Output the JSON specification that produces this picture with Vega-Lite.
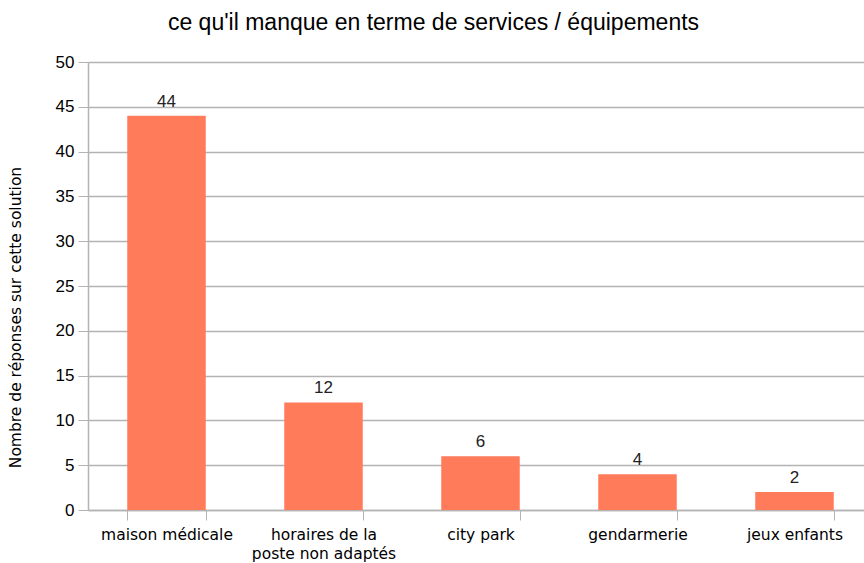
{
  "$schema": "https://vega.github.io/schema/vega-lite/v6.json",
  "width": 785,
  "height": 448,
  "autosize": {"type": "none"},
  "padding": {"left": 88, "top": 62, "right": 0, "bottom": 53},
  "background": "white",
  "title": {
    "text": "ce qu'il manque en terme de services / équipements",
    "font": "Liberation Sans",
    "fontSize": 23,
    "fontWeight": "normal",
    "color": "#000000",
    "anchor": "middle",
    "dx": -47,
    "offset": 18
  },
  "data": {
    "values": [
      {"categorie": "maison médicale", "reponses": 44},
      {"categorie": "horaires de la poste non adaptés", "reponses": 12},
      {"categorie": "city park", "reponses": 6},
      {"categorie": "gendarmerie", "reponses": 4},
      {"categorie": "jeux enfants", "reponses": 2}
    ]
  },
  "config": {
    "view": {"stroke": null},
    "axis": {"domainColor": "#b3b3b3", "tickColor": "#b3b3b3", "gridColor": "#b3b3b3"}
  },
  "encoding": {
    "x": {
      "field": "categorie",
      "type": "nominal",
      "sort": null,
      "scale": {"paddingInner": 0.5, "paddingOuter": 0.25},
      "axis": {
        "title": null,
        "labelAngle": 0,
        "labelFont": "DejaVu Sans",
        "labelFontSize": 15.5,
        "labelColor": "#000000",
        "labelPadding": 7,
        "labelLineHeight": 19,
        "tickBand": "extent",
        "tickSize": 10,
        "domainWidth": 1.5,
        "labelExpr": "datum.label == 'horaires de la poste non adaptés' ? ['horaires de la', 'poste non adaptés'] : datum.label"
      }
    },
    "y": {
      "field": "reponses",
      "type": "quantitative",
      "scale": {"domain": [0, 50]},
      "axis": {
        "values": [0, 5, 10, 15, 20, 25, 30, 35, 40, 45, 50],
        "title": "Nombre de réponses sur cette solution",
        "titleFont": "DejaVu Sans",
        "titleFontSize": 15.5,
        "titleFontWeight": "normal",
        "titleColor": "#000000",
        "titleAngle": -90,
        "titleX": -65,
        "titleY": 255,
        "titleAlign": "center",
        "titleBaseline": "bottom",
        "labelFont": "Liberation Sans",
        "labelFontSize": 17,
        "labelColor": "#000000",
        "labelPadding": 4,
        "tickSize": 10,
        "grid": true,
        "gridWidth": 1.5,
        "domainWidth": 1.5
      }
    }
  },
  "layer": [
    {"mark": {"type": "bar", "color": "#FF7B5A"}},
    {
      "mark": {"type": "text", "dy": -14, "font": "Liberation Sans", "fontSize": 17, "color": "#222222"},
      "encoding": {"text": {"field": "reponses"}}
    }
  ]
}
